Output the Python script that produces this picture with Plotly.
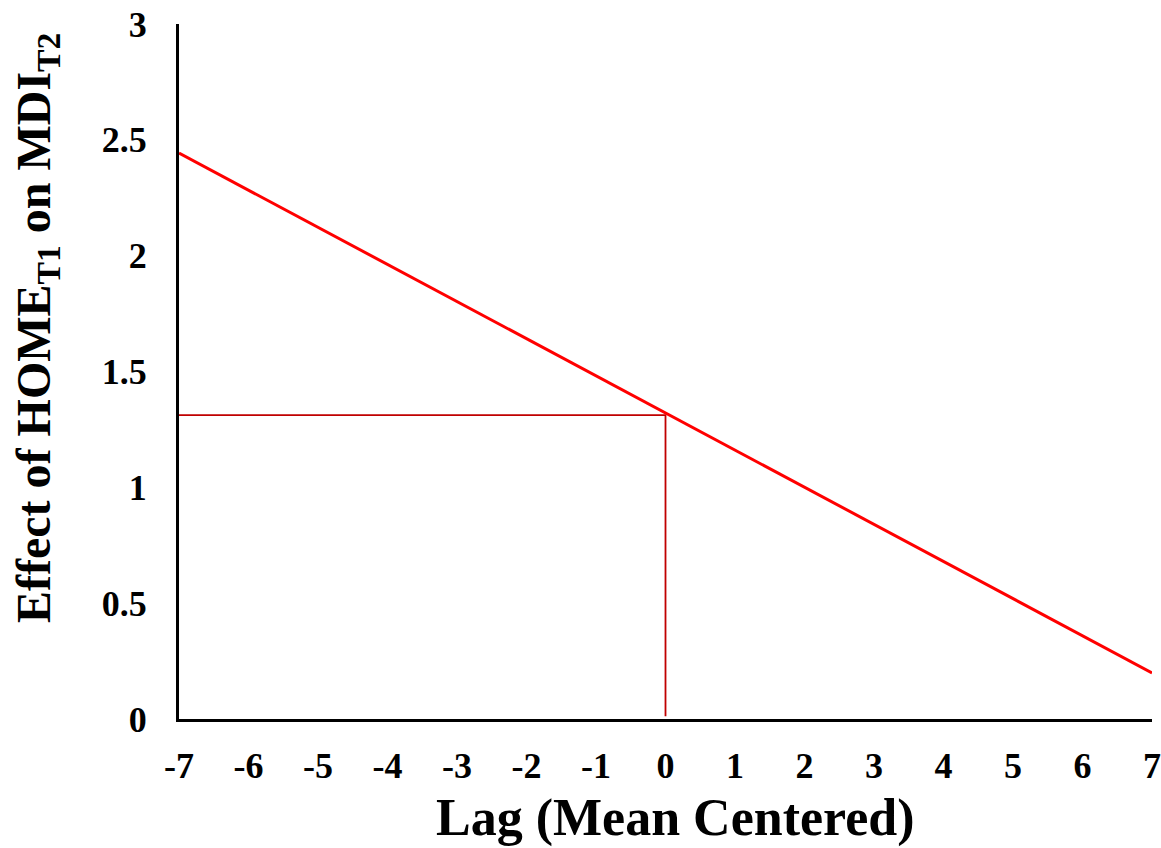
import plotly.graph_objects as go

# Data
lag = [-7, 7]
effect = [2.443, 0.199]
ref_x = [-7, 0, 0]
ref_y = [1.312, 1.312, 0.012]
x_ticks = list(range(-7, 8))
y_ticks = [0, 0.5, 1, 1.5, 2, 2.5, 3]
y_tick_text = ["0", "0.5", "1", "1.5", "2", "2.5", "3"]
x_title = "<b>Lag (Mean Centered)</b>"
y_title = "<b>Effect of HOME<sub>T1</sub> on MDI<sub>T2</sub></b>"

FONT = "Liberation Serif"

fig = go.Figure()
fig.add_trace(go.Scatter(x=ref_x, y=ref_y, mode="lines",
                         line=dict(color="#C00000", width=1.8),
                         cliponaxis=False, showlegend=False))
fig.add_trace(go.Scatter(x=lag, y=effect, mode="lines",
                         line=dict(color="#FF0000", width=3),
                         cliponaxis=False, showlegend=False))

fig.update_layout(
    width=1161, height=848,
    margin=dict(l=179, r=9, t=24, b=129),
    plot_bgcolor="white", paper_bgcolor="white",
    font=dict(family=FONT, color="black"),
    xaxis=dict(
        range=[-7, 7], tickvals=x_ticks, ticktext=[str(v) for v in x_ticks],
        showgrid=False, zeroline=False, showline=True, linecolor="black", linewidth=3,
        ticks="", tickfont=dict(family=FONT, size=36, color="black", weight="bold"),
        ticklabelstandoff=13, automargin=False,
    ),
    yaxis=dict(
        range=[0, 3], tickvals=y_ticks, ticktext=y_tick_text,
        showgrid=False, zeroline=False, showline=True, linecolor="black", linewidth=3,
        ticks="", tickfont=dict(family=FONT, size=36, color="black", weight="bold"),
        ticklabelstandoff=22, automargin=False,
    ),
    annotations=[
        dict(text=x_title, xref="paper", yref="paper", x=(675 - 179) / (1152 - 179),
             y=(719 - 818) / (719 - 24), xanchor="center", yanchor="middle",
             showarrow=False, font=dict(family=FONT, size=52, color="black")),
        dict(text=y_title, xref="paper", yref="paper", x=(37 - 179) / (1152 - 179),
             y=(719 - 328) / (719 - 24), xanchor="center", yanchor="middle", textangle=-90,
             showarrow=False, font=dict(family=FONT, size=48, color="black")),
    ],
)

fig.write_html("out.html")
